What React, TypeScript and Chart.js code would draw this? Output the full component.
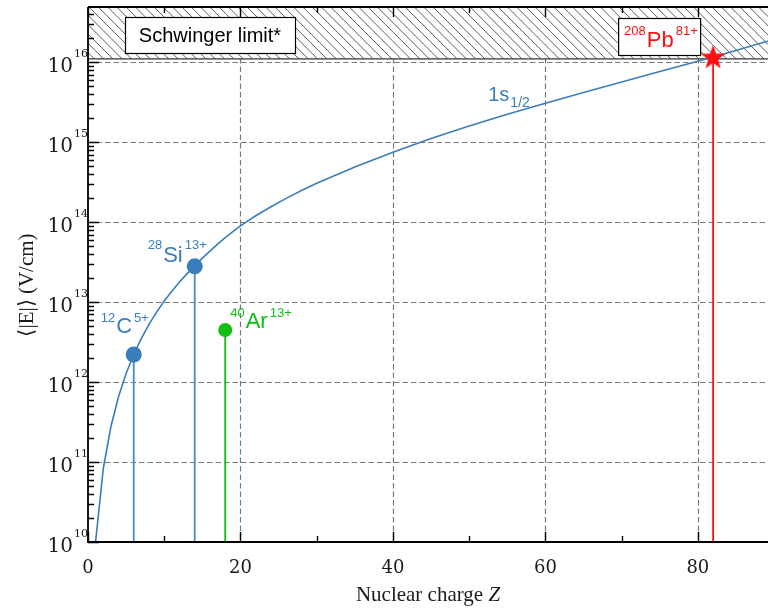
import React, { useEffect, useRef } from 'react';
import { Chart, registerables } from 'chart.js';

Chart.register(...registerables);

// Mean field strength of the 1s1/2 state versus nuclear charge Z
const nuclearCharge = [
  1, 2, 3, 4, 5, 6, 7, 8, 9, 10, 11, 12, 13, 14, 15, 16, 17, 18, 19, 20,
  22, 24, 26, 28, 30, 35, 40, 45, 50, 55, 60, 65, 70, 75, 80, 82, 85, 90,
];
const meanField1s = [
  1.02e10, 8.2e10, 2.76e11, 6.54e11, 1.28e12, 2.21e12, 3.52e12, 5.26e12, 7.5e12, 1.03e13,
  1.37e13, 1.78e13, 2.27e13, 2.83e13, 3.55e13, 4.35e13, 5.3e13, 6.4e13, 7.6e13, 9.0e13,
  1.2e14, 1.556e14, 1.98e14, 2.48e14, 3.06e14, 4.9e14, 7.47e14, 1.11e15, 1.59e15, 2.23e15,
  3.07e15, 4.18e15, 5.66e15, 7.63e15, 1.03e16, 1.16e16, 1.4e16, 1.94e16,
];

// Ions marked on the plot
const ionSymbol = ['C', 'Si', 'Ar', 'Pb'];
const ionMassNumber = ['12', '28', '40', '208'];
const ionChargeState = ['5+', '13+', '13+', '81+'];
const ionZ = [6, 14, 18, 82];
const ionField = [2.21e12, 2.8e13, 4.47e12, 1.15e16];

// Critical (Schwinger) field, V/cm
const schwingerLimit = 1.1e16;

// Axis ranges and ticks
const zRange = [0, 89.2];
const fieldRange = [1e10, 4.9e16];
const zMajorTicks = [0, 20, 40, 60, 80];
const zMinorTicks = [10, 30, 50, 70];
const fieldDecades = [10, 11, 12, 13, 14, 15, 16];

const BLUE = '#3a7dbb';
const STEM_BLUE = '#4a8ac6';
const GREEN = '#10c010';
const RED = '#ff1010';
const INK = '#1a1a1a';

function makeStar(): HTMLCanvasElement {
  const c = document.createElement('canvas');
  c.width = 28;
  c.height = 28;
  const g = c.getContext('2d')!;
  g.translate(14, 14.5);
  g.beginPath();
  for (let i = 0; i < 10; i++) {
    const r = i % 2 === 0 ? 13 : 5.2;
    const a = -Math.PI / 2 + (i * Math.PI) / 5;
    g.lineTo(r * Math.cos(a), r * Math.sin(a));
  }
  g.closePath();
  g.fillStyle = RED;
  g.fill();
  return c;
}

function drawIsotope(
  ctx: CanvasRenderingContext2D,
  left: number,
  baseline: number,
  rise: number,
  mass: string,
  sym: string,
  charge: string,
  color: string,
  mainPx: number,
  supPx: number,
) {
  ctx.fillStyle = color;
  ctx.textAlign = 'left';
  ctx.textBaseline = 'alphabetic';
  ctx.font = `${supPx}px "Liberation Sans"`;
  ctx.fillText(mass, left, baseline - rise);
  let x = left + ctx.measureText(mass).width + 1;
  ctx.font = `${mainPx}px "Liberation Sans"`;
  ctx.fillText(sym, x, baseline);
  x += ctx.measureText(sym).width + 2;
  ctx.font = `${supPx}px "Liberation Sans"`;
  ctx.fillText(charge, x, baseline - rise);
}

const backdrop = {
  id: 'backdrop',
  beforeDatasetsDraw(chart: any) {
    const { ctx, chartArea: a } = chart;
    const x = chart.scales.x;
    const y = chart.scales.y;
    ctx.save();
    // dashed grid
    ctx.strokeStyle = '#7a7a7a';
    ctx.lineWidth = 1.2;
    ctx.setLineDash([5.5, 3]);
    ctx.beginPath();
    for (const z of zMajorTicks) {
      if (z === zRange[0]) continue;
      const px = Math.round(x.getPixelForValue(z)) + 0.5;
      ctx.moveTo(px, a.top);
      ctx.lineTo(px, a.bottom);
    }
    for (const e of fieldDecades) {
      if (Math.pow(10, e) <= fieldRange[0]) continue;
      const py = Math.round(y.getPixelForValue(Math.pow(10, e))) + 0.5;
      ctx.moveTo(a.left, py);
      ctx.lineTo(a.right, py);
    }
    ctx.stroke();
    ctx.setLineDash([]);

    // hatched region above the critical field
    const yl = y.getPixelForValue(schwingerLimit);
    ctx.save();
    ctx.beginPath();
    ctx.rect(a.left, a.top, a.right - a.left, yl - a.top);
    ctx.fillStyle = '#ffffff';
    ctx.fill();
    ctx.clip();
    ctx.strokeStyle = '#4a4a4a';
    ctx.lineWidth = 0.9;
    const h = yl - a.top;
    ctx.beginPath();
    for (let sx = a.left - h - 3; sx < a.right + 2; sx += 9.3) {
      ctx.moveTo(sx, a.top);
      ctx.lineTo(sx + h, yl);
    }
    ctx.stroke();
    ctx.restore();
    ctx.strokeStyle = '#333333';
    ctx.lineWidth = 1.3;
    ctx.beginPath();
    ctx.moveTo(a.left, yl);
    ctx.lineTo(a.right, yl);
    ctx.stroke();
    ctx.restore();
  },
};

const overlay = {
  id: 'overlay',
  afterDatasetsDraw(chart: any) {
    const { ctx, chartArea: a } = chart;
    const x = chart.scales.x;
    const y = chart.scales.y;
    ctx.save();

    // frame
    ctx.strokeStyle = '#000';
    ctx.lineWidth = 1.8;
    ctx.beginPath();
    ctx.moveTo(a.left, a.top);
    ctx.lineTo(a.right, a.top);
    ctx.moveTo(a.left, a.top);
    ctx.lineTo(a.left, a.bottom);
    ctx.lineTo(a.right, a.bottom);
    ctx.stroke();

    // ticks
    ctx.lineWidth = 1.4;
    ctx.beginPath();
    const zTick = (z: number, len: number) => {
      const px = Math.round(x.getPixelForValue(z)) + 0.5;
      ctx.moveTo(px, a.bottom);
      ctx.lineTo(px, a.bottom - len);
      ctx.moveTo(px, a.top);
      ctx.lineTo(px, a.top + len);
    };
    zMajorTicks.forEach((z) => zTick(z, 10));
    zMinorTicks.forEach((z) => zTick(z, 6));
    for (const e of fieldDecades) {
      for (let m = 1; m <= 9; m++) {
        const v = m * Math.pow(10, e);
        if (v < fieldRange[0] || v > fieldRange[1]) continue;
        const py = Math.round(y.getPixelForValue(v)) + 0.5;
        ctx.moveTo(a.left, py);
        ctx.lineTo(a.left + (m === 1 ? 11 : 6), py);
      }
    }
    ctx.stroke();

    // tick labels
    ctx.fillStyle = INK;
    ctx.textBaseline = 'alphabetic';
    ctx.font = '18px "DejaVu Serif"';
    ctx.textAlign = 'center';
    for (const z of zMajorTicks) {
      ctx.fillText(String(z), x.getPixelForValue(z), a.bottom + 31);
    }
    for (const e of fieldDecades) {
      const py = y.getPixelForValue(Math.pow(10, e));
      ctx.font = '20px "DejaVu Serif"';
      ctx.textAlign = 'right';
      ctx.fillText('10', 73, py + 10);
      ctx.font = '11px "DejaVu Serif"';
      ctx.textAlign = 'left';
      ctx.fillText(String(e), 74, py - 5);
    }

    // axis titles
    ctx.font = '21px "Liberation Serif"';
    const t1 = 'Nuclear charge ';
    const w1 = ctx.measureText(t1).width;
    ctx.font = 'italic 21px "Liberation Serif"';
    const w2 = ctx.measureText('Z').width;
    const startX = (a.left + a.right) / 2 - (w1 + w2) / 2;
    ctx.textAlign = 'left';
    ctx.font = '21px "Liberation Serif"';
    ctx.fillText(t1, startX, 601);
    ctx.font = 'italic 21px "Liberation Serif"';
    ctx.fillText('Z', startX + w1, 601);

    ctx.save();
    ctx.translate(27, 285);
    ctx.rotate(-Math.PI / 2);
    ctx.font = '21px "Liberation Serif"';
    ctx.textAlign = 'center';
    ctx.textBaseline = 'middle';
    ctx.fillText('\u27E8|E|\u27E9 (V/cm)', 0, 0);
    ctx.restore();

    // Schwinger limit box
    const bx = a.left + 37;
    const by = a.top + 10;
    ctx.fillStyle = '#fff';
    ctx.fillRect(bx, by, 170, 36);
    ctx.strokeStyle = '#000';
    ctx.lineWidth = 1.2;
    ctx.strokeRect(bx + 0.5, by + 0.5, 170, 36);
    ctx.fillStyle = '#000';
    ctx.font = '20px "Liberation Sans"';
    ctx.textAlign = 'center';
    ctx.textBaseline = 'middle';
    ctx.fillText('Schwinger limit*', bx + 85, by + 19);

    // ion labels, placed relative to each marker
    const px = (i: number) => x.getPixelForValue(ionZ[i]);
    const py = (i: number) => y.getPixelForValue(ionField[i]);

    // lead box
    const pbx = px(3) - 95;
    const pby = a.top + 11;
    ctx.fillStyle = '#fff';
    ctx.fillRect(pbx, pby, 82, 37);
    ctx.strokeRect(pbx + 0.5, pby + 0.5, 82, 37);

    drawIsotope(ctx, px(0) - 33, py(0) - 22, 11, ionMassNumber[0], ionSymbol[0], ionChargeState[0], BLUE, 22, 13);
    drawIsotope(ctx, px(1) - 47, py(1) - 4, 13, ionMassNumber[1], ionSymbol[1], ionChargeState[1], BLUE, 22, 13);
    drawIsotope(ctx, px(2) + 5, py(2) - 2, 11, ionMassNumber[2], ionSymbol[2], ionChargeState[2], GREEN, 22, 13);
    drawIsotope(ctx, pbx + 6, pby + 29, 12, ionMassNumber[3], ionSymbol[3], ionChargeState[3], RED, 22, 13);

    // state label on the curve
    const lx = x.getPixelForValue(52.5);
    const ly = y.getPixelForValue(3.3e15);
    ctx.fillStyle = BLUE;
    ctx.textAlign = 'left';
    ctx.textBaseline = 'alphabetic';
    ctx.font = '20px "Liberation Sans"';
    ctx.fillText('1s', lx, ly);
    const w = ctx.measureText('1s').width;
    ctx.font = '14px "Liberation Sans"';
    ctx.fillText('1/2', lx + w + 1, ly + 6);

    ctx.restore();
  },
};

export default function App() {
  const ref = useRef<HTMLCanvasElement>(null);

  useEffect(() => {
    const canvas = ref.current;
    if (!canvas) return;
    const star = makeStar();
    const stem = (i: number, color: string) => ({
      data: [
        { x: ionZ[i], y: ionField[i] },
        { x: ionZ[i], y: fieldRange[0] },
      ],
      showLine: true,
      borderColor: color,
      borderWidth: 1.8,
      pointRadius: 0,
      order: 3,
    });

    const chart = new Chart(canvas, {
      type: 'scatter',
      data: {
        datasets: [
          {
            data: nuclearCharge.map((z, i) => ({ x: z, y: meanField1s[i] })),
            showLine: true,
            borderColor: BLUE,
            borderWidth: 1.6,
            pointRadius: 0,
            tension: 0,
            order: 4,
          },
          stem(0, STEM_BLUE),
          stem(1, STEM_BLUE),
          stem(2, GREEN),
          stem(3, RED),
          {
            data: [0, 1].map((i) => ({ x: ionZ[i], y: ionField[i] })),
            backgroundColor: BLUE,
            borderWidth: 0,
            pointRadius: 8,
            order: 1,
          },
          {
            data: [{ x: ionZ[2], y: ionField[2] }],
            backgroundColor: GREEN,
            borderWidth: 0,
            pointRadius: 7,
            order: 1,
          },
          {
            data: [{ x: ionZ[3], y: ionField[3] }],
            pointStyle: star as any,
            pointRadius: 12,
            order: 0,
          },
        ] as any,
      },
      options: {
        animation: false,
        responsive: false,
        devicePixelRatio: 1,
        layout: { autoPadding: false, padding: { left: 88, right: 0, top: 7, bottom: 68 } },
        plugins: { legend: { display: false }, tooltip: { enabled: false } },
        scales: {
          x: { type: 'linear', min: zRange[0], max: zRange[1], display: false },
          y: { type: 'logarithmic', min: fieldRange[0], max: fieldRange[1], display: false },
        },
      },
      plugins: [backdrop, overlay],
    });
    return () => chart.destroy();
  }, []);

  return (
    <div style={{ position: 'absolute', left: 0, top: 0 }}>
      <canvas ref={ref} width={768} height={610} style={{ display: 'block' }} />
    </div>
  );
}
